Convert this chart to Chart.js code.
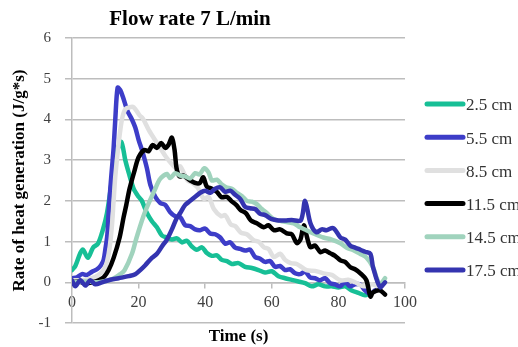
<!DOCTYPE html>
<html>
<head>
<meta charset="utf-8">
<script src="https://cdn.jsdelivr.net/npm/chart.js@4/dist/chart.umd.min.js"></script>
<style>
  html, body { margin: 0; padding: 0; background: #fff; overflow: hidden; }
  #wrap { width: 518px; height: 347px; position: relative; }
</style>
</head>
<body>
<div id="wrap"><canvas id="c" width="518" height="347"></canvas></div>
<script>
const chartTitle = 'Flow rate 7 L/min';
const xTitle = 'Time (s)';
const yTitle = 'Rate of heat generation (J/g*s)';
const seriesLabels = ['2.5 cm', '5.5 cm', '8.5 cm', '11.5 cm', '14.5 cm', '17.5 cm'];
const xTicks = [0, 20, 40, 60, 80, 100];
const yTicks = [-1, 0, 1, 2, 3, 4, 5, 6];

// [time (s), rate (J/g*s)]
const s2_5 = [[0,0.3],[1,0.4],[2.5,0.72],[3.3,0.8],[4.8,0.6],[6.3,0.85],[7.8,0.95],[9.3,1.3],[10.5,1.7],[12,2.5],[13.5,3.2],[14.8,3.45],[16,3.0],[17,2.7],[18.5,2.3],[20,2.1],[21,2.0],[22.5,1.7],[24,1.5],[25.5,1.35],[27,1.15],[28.5,1.1],[30,1.05],[31.5,1.08],[33,0.98],[34.5,1.02],[36,0.88],[37.5,0.8],[39,0.86],[40.5,0.72],[42,0.65],[43.5,0.66],[45,0.55],[46.5,0.52],[48,0.45],[50,0.47],[52,0.38],[54,0.35],[56,0.3],[58,0.24],[60,0.27],[62,0.15],[64,0.1],[66,0.06],[68,0.02],[70,-0.02],[72,-0.1],[74,-0.05],[76,-0.1],[78,-0.1],[80,-0.13],[82,-0.1],[84,-0.2],[86,-0.26],[88,-0.32],[89.5,-0.27]];
const s5_5 = [[0,0.1],[1.5,0.12],[3,0.2],[4.5,0.18],[6,0.26],[7.5,0.32],[8.7,0.42],[9.5,0.55],[10,0.8],[10.6,1.15],[11,1.7],[11.5,2.3],[12,2.8],[12.5,3.3],[13,4.0],[13.7,4.78],[14.5,4.72],[15.3,4.55],[16.7,4.2],[18,4.0],[19,3.8],[20,3.5],[21,3.25],[22.5,2.8],[23.5,2.4],[25,2.1],[26.5,1.95],[28,1.9],[29.5,1.72],[31,1.62],[32.5,1.6],[34,1.4],[35.5,1.38],[37,1.3],[38.5,1.28],[40,1.32],[41.5,1.2],[43,1.18],[44.5,1.1],[46,0.95],[47.5,0.98],[49,0.85],[50.5,0.82],[52,0.78],[53.5,0.8],[55,0.62],[56.5,0.58],[58,0.5],[59.5,0.52],[61,0.38],[62.5,0.4],[64,0.3],[65.5,0.32],[67,0.22],[68.5,0.2],[70,0.26],[71.5,0.12],[73,0.1],[74.5,0.05],[76,0.1],[77.5,-0.02],[79,-0.05],[80.5,-0.1],[82,0.0],[83.5,-0.1],[85,-0.05],[86.5,-0.05],[88,-0.2],[89.5,-0.28],[91,-0.2]];
const s8_5 = [[0,0.05],[3,0.05],[6,0.1],[8,0.18],[9.5,0.3],[10.5,0.5],[11.3,0.85],[12,1.4],[12.5,2.0],[13,2.6],[14,3.4],[15,4.0],[16,4.25],[17.3,4.3],[18.5,4.3],[20.3,4.1],[21.3,4.02],[23,3.75],[24.5,3.55],[26.5,3.3],[28.3,3.07],[30,2.9],[31.3,2.8],[32.5,2.85],[34.7,2.5],[36,2.45],[37.7,2.33],[39.6,2.05],[41,2.1],[42.6,1.8],[44.8,1.62],[46,1.65],[47.7,1.42],[49,1.38],[50.7,1.22],[52.5,1.18],[54.6,1.03],[56,1.0],[57.6,0.86],[59,0.82],[60.6,0.62],[62.5,0.7],[64,0.55],[65.7,0.47],[67.5,0.45],[70.4,0.3],[73,0.28],[75.5,0.22],[78,0.18],[80.6,0.05],[83,0.06],[85,0.0],[87.5,-0.1],[90,-0.05],[92,-0.1]];
const s11_5 = [[0,0.0],[2,0.02],[4,-0.03],[6,0.0],[8,0.05],[9.5,0.12],[11,0.3],[12.5,0.6],[14.3,1.1],[15.5,1.6],[16.3,1.9],[17.3,2.3],[18.8,2.75],[20,3.07],[21.7,3.25],[23,3.22],[24.2,3.37],[25.5,3.3],[26.8,3.42],[28,3.3],[29,3.38],[30,3.55],[30.8,3.25],[31.4,2.8],[32.3,2.6],[33.5,2.62],[35.5,2.5],[37.5,2.43],[38.5,2.45],[39.4,2.58],[40.5,2.35],[42,2.3],[43.5,2.22],[44.9,2.09],[46.5,2.1],[47.8,2.0],[49.3,1.9],[50.7,1.77],[52.2,1.7],[53.7,1.52],[55.5,1.45],[57.6,1.35],[59,1.4],[60.6,1.28],[62.5,1.3],[64.5,1.2],[66,1.18],[67.5,0.96],[68.6,1.05],[69.6,1.4],[70.6,1.1],[71.6,0.86],[73,0.9],[74.6,0.74],[76,0.78],[77.6,0.71],[79,0.65],[80.6,0.54],[82,0.5],[83.6,0.37],[85,0.32],[86.6,0.22],[88.4,0.05],[89.6,-0.35],[90.4,-0.25],[92.5,-0.2],[94,-0.3]];
const s14_5 = [[0,0.0],[4,0.02],[8,0.0],[11,0.05],[13,0.12],[14.5,0.2],[15.8,0.3],[18,0.7],[19.4,1.1],[21.8,1.7],[24.8,2.26],[26.3,2.52],[27.5,2.62],[28.5,2.66],[29.5,2.56],[31,2.68],[32.5,2.62],[34,2.6],[35.5,2.55],[37,2.68],[38.3,2.65],[39.7,2.8],[41,2.7],[42,2.5],[43.5,2.52],[45,2.4],[46.3,2.33],[48,2.3],[49.5,2.2],[51,2.12],[52.5,2.0],[54,1.98],[55.5,1.92],[57,1.8],[58.5,1.7],[60.6,1.55],[63,1.5],[66.6,1.45],[68.5,1.35],[70.4,1.28],[72.5,1.2],[75.5,1.1],[78,1.05],[80.6,0.96],[82.5,0.85],[84.5,0.79],[86.5,0.7],[88.4,0.61],[90.4,0.37],[91.5,0.1],[92.5,-0.05],[94,0.1]];
const s17_5 = [[0,0.05],[1,-0.1],[2.5,0.05],[4,-0.08],[5.5,0.05],[7,-0.05],[9,0.0],[11,0.05],[14,0.1],[17,0.15],[19,0.2],[20.5,0.3],[22,0.42],[24,0.6],[25.5,0.7],[27,0.88],[28.5,1.05],[30,1.3],[31.3,1.55],[32.5,1.7],[34,1.9],[35.5,2.0],[37,2.1],[38.5,2.2],[40,2.25],[41.5,2.2],[43,2.3],[44.5,2.33],[46,2.22],[47.5,2.25],[49,2.15],[50.5,2.05],[52,1.85],[53.5,1.82],[55,1.8],[56.5,1.68],[58,1.65],[60,1.55],[62,1.52],[64,1.52],[66,1.53],[68.7,1.52],[70,2.0],[71.6,1.45],[73.4,1.23],[75,1.3],[76.4,1.28],[78.5,1.33],[80.6,1.1],[82,1.05],[83.6,0.9],[85,0.85],[86.6,0.8],[88,0.75],[89.6,0.7],[90.4,0.37],[92.5,-0.12],[94,0.0]];

const seriesData = [s2_5, s5_5, s8_5, s11_5, s14_5, s17_5];
const seriesColors = ['#17bf96', '#3d3dc8', '#e0e0e0', '#000000', '#a0d3bd', '#3434b0'];

const SERIF = '"Liberation Serif", "Times New Roman", serif';
const GRID = '#bdbdbd';

const datasets = seriesData.map((pts, i) => ({
  label: seriesLabels[i],
  data: pts.map(p => ({ x: p[0], y: p[1] })),
  borderColor: seriesColors[i],
  backgroundColor: seriesColors[i],
  borderWidth: 4.5,
  pointRadius: 0,
  tension: 0.3,
  borderCapStyle: 'round',
  borderJoinStyle: 'round',
  fill: false,
  order: seriesData.length - i
}));

const overlay = {
  id: 'overlay',
  afterDraw(chart) {
    const ctx = chart.ctx;
    ctx.save();
    ctx.fillStyle = '#000';
    ctx.font = 'bold 21px ' + SERIF;
    ctx.textAlign = 'center';
    ctx.textBaseline = 'alphabetic';
    ctx.fillText(chartTitle, 190, 25);
    chart.data.datasets.forEach((ds, i) => {
      const y = 104 + i * 33.2;
      ctx.strokeStyle = ds.borderColor;
      ctx.lineWidth = 5;
      ctx.lineCap = 'round';
      ctx.beginPath();
      ctx.moveTo(427, y);
      ctx.lineTo(463, y);
      ctx.stroke();
      ctx.fillStyle = '#333';
      ctx.font = '17px ' + SERIF;
      ctx.textAlign = 'left';
      ctx.textBaseline = 'middle';
      ctx.fillText(ds.label, 466, y + 2);
    });
    ctx.restore();
  }
};

new Chart(document.getElementById('c'), {
  type: 'line',
  data: { datasets },
  plugins: [overlay],
  options: {
    responsive: false,
    devicePixelRatio: 1,
    animation: false,
    layout: { padding: { top: 38, right: 113, left: 0, bottom: 0 } },
    plugins: { legend: { display: false }, title: { display: false }, tooltip: { enabled: false } },
    scales: {
      x: {
        type: 'linear',
        position: { y: 0 },
        min: xTicks[0], max: xTicks[xTicks.length - 1],
        afterBuildTicks: s => { s.ticks = xTicks.map(v => ({ value: v })); },
        ticks: { font: { family: SERIF, size: 16 }, color: '#404040', padding: 6, maxRotation: 0, autoSkip: false },
        grid: { drawOnChartArea: false, drawTicks: true, tickLength: 5, color: GRID, lineWidth: 1.5 },
        border: { display: true, color: GRID, width: 1.5 }
      },
      xt: {
        type: 'linear',
        axis: 'x',
        position: 'bottom',
        display: true,
        ticks: { display: false },
        grid: { display: false, drawTicks: false },
        border: { display: false },
        title: { display: true, text: xTitle, color: '#000', font: { family: SERIF, size: 17, weight: 'bold' }, padding: 0 },
        afterFit: s => { s.height = 24; }
      },
      y: {
        type: 'linear',
        min: yTicks[0], max: yTicks[yTicks.length - 1],
        afterBuildTicks: s => { s.ticks = yTicks.map(v => ({ value: v })); },
        ticks: { font: { family: SERIF, size: 15 }, color: '#404040', padding: 14 },
        grid: { color: GRID, lineWidth: 1.5, tickLength: 7, drawTicks: true },
        border: { display: true, color: GRID, width: 1.5 },
        title: { display: true, text: yTitle, color: '#000', font: { family: SERIF, size: 17, weight: 'bold' }, padding: { top: 9, bottom: 0 } },
        afterFit: s => { s.width = 72; }
      }
    }
  }
});
</script>
</body>
</html>
